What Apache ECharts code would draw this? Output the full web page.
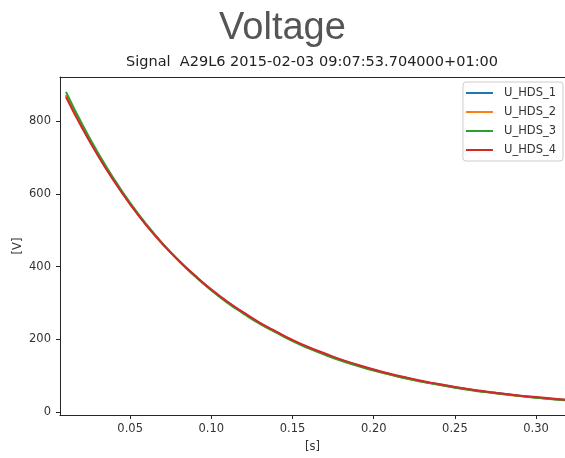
<!DOCTYPE html>
<html>
<head>
<meta charset="utf-8">
<script src="https://cdn.jsdelivr.net/npm/echarts@6/dist/echarts.min.js"></script>
<style>
html,body{margin:0;padding:0;background:#fff;}
#chart{width:565px;height:458px;}
</style>
</head>
<body>
<div id="chart"></div>
<script>
var times = [0.0105, 0.02, 0.03, 0.04, 0.05, 0.06, 0.07, 0.08, 0.09, 0.10, 0.11, 0.12, 0.13, 0.14, 0.15, 0.16, 0.17, 0.18, 0.19, 0.20, 0.21, 0.22, 0.23, 0.24, 0.25, 0.26, 0.27, 0.28, 0.29, 0.30, 0.31, 0.32];
var uHds1 = [870, 787, 708, 637, 572, 514, 462, 416, 374, 336, 302, 272, 244, 220, 197, 177, 159, 143, 129, 116, 104, 94, 84, 76, 68, 61, 55, 50, 45, 40, 36, 33];
var uHds2 = [872, 789, 709, 637, 572, 514, 462, 415, 373, 335, 301, 271, 243, 219, 196, 176, 158, 142, 128, 115, 103, 93, 84, 75, 68, 61, 55, 49, 44, 40, 36, 32];
var uHds3 = [880, 795, 714, 641, 575, 516, 463, 416, 373, 335, 300, 270, 242, 218, 195, 175, 157, 141, 127, 114, 103, 92, 83, 75, 67, 60, 54, 49, 44, 39, 35, 32];
var uHds4 = [866, 784, 706, 635, 571, 513, 462, 416, 375, 337, 303, 273, 245, 221, 198, 178, 161, 144, 130, 117, 105, 95, 85, 77, 69, 62, 56, 50, 45, 41, 37, 33];
var seriesNames = ['U_HDS_1', 'U_HDS_2', 'U_HDS_3', 'U_HDS_4'];
var xTicks = [0.05, 0.10, 0.15, 0.20, 0.25, 0.30];
var yTicks = [0, 200, 400, 600, 800];
var titleText = 'Voltage';
var subtitleText = 'Signal  A29L6 2015-02-03 09:07:53.704000+01:00';
var xName = '[s]';
var yName = '[V]';

var colors = ['#1f77b4', '#ff7f0e', '#2ca02c', '#d62728'];
var allValues = [uHds1, uHds2, uHds3, uHds4];
function pairs(vals) {
  return times.map(function (t, i) { return [t, vals[i]]; });
}
var font = 'DejaVu Sans';
var axisColor = '#262626';
var labelColor = '#333333';

var chart = echarts.init(document.getElementById('chart'), null, {renderer: 'canvas'});
chart.setOption({
  animation: false,
  backgroundColor: '#ffffff',
  title: [
    {
      text: titleText, left: 'center', top: 10, padding: 0,
      textStyle: {fontFamily: 'Liberation Sans', fontSize: 38, fontWeight: 'normal', color: '#555555'}
    },
    {
      text: subtitleText, left: 312, textAlign: 'center', top: 55, padding: 0,
      textStyle: {fontFamily: font, fontSize: 14.5, fontWeight: 'normal', color: '#222222'}
    }
  ],
  legend: {
    orient: 'vertical', right: 2, top: 82,
    padding: [4, 7, 4, 3],
    itemGap: 5,
    itemWidth: 33, itemHeight: 2,
    icon: 'path://M0,0H27V2H0Z M33,0H33.01V2H33Z',
    borderColor: '#cccccc', borderWidth: 1, borderRadius: 3,
    backgroundColor: 'rgba(255,255,255,0.8)',
    textStyle: {fontFamily: font, fontSize: 11.5, color: labelColor, lineHeight: 14},
    data: seriesNames
  },
  grid: {left: 60, right: 0, top: 77, bottom: 43, containLabel: false},
  xAxis: [
    {
      type: 'value', min: 0.0068, max: 0.3178,
      name: xName, nameLocation: 'middle', nameGap: 26, nameMoveOverlap: false,
      nameTextStyle: {fontFamily: font, fontSize: 11.5, color: labelColor},
      axisLine: {show: true, onZero: false, lineStyle: {color: axisColor, width: 1}},
      axisTick: {show: true, inside: false, length: 4, lineStyle: {color: axisColor, width: 1}, customValues: xTicks},
      axisLabel: {
        show: true, margin: 8, fontFamily: font, fontSize: 11.5, color: labelColor,
        customValues: xTicks,
        showMinLabel: true, showMaxLabel: true, hideOverlap: false,
        formatter: function (v) { return v.toFixed(2); }
      },
      splitLine: {show: false}
    },
    {
      type: 'value', position: 'top', min: 0.0068, max: 0.3178,
      axisLine: {show: true, onZero: false, lineStyle: {color: axisColor, width: 1}},
      axisTick: {show: false}, axisLabel: {show: false}, splitLine: {show: false}
    }
  ],
  yAxis: {
    type: 'value', min: -8.2, max: 921,
    name: yName, nameLocation: 'middle', nameGap: 36, nameRotate: 90, nameMoveOverlap: false,
    nameTextStyle: {fontFamily: font, fontSize: 11.5, color: labelColor},
    axisLine: {show: true, onZero: false, lineStyle: {color: axisColor, width: 1}},
    axisTick: {show: true, inside: false, length: 4, lineStyle: {color: axisColor, width: 1}, customValues: yTicks},
    axisLabel: {
      show: true, margin: 9, fontFamily: font, fontSize: 11.5, color: labelColor,
      customValues: yTicks,
      showMinLabel: true, showMaxLabel: true, hideOverlap: false,
      formatter: function (v) { return String(Math.round(v)); }
    },
    splitLine: {show: false}
  },
  series: seriesNames.map(function (name, i) {
    return {
      name: name, type: 'line', xAxisIndex: 0,
      data: pairs(allValues[i]),
      smooth: true, symbol: 'none', clip: true,
      lineStyle: {color: colors[i], width: 2},
      itemStyle: {color: colors[i]}
    };
  })
});
</script>
</body>
</html>
